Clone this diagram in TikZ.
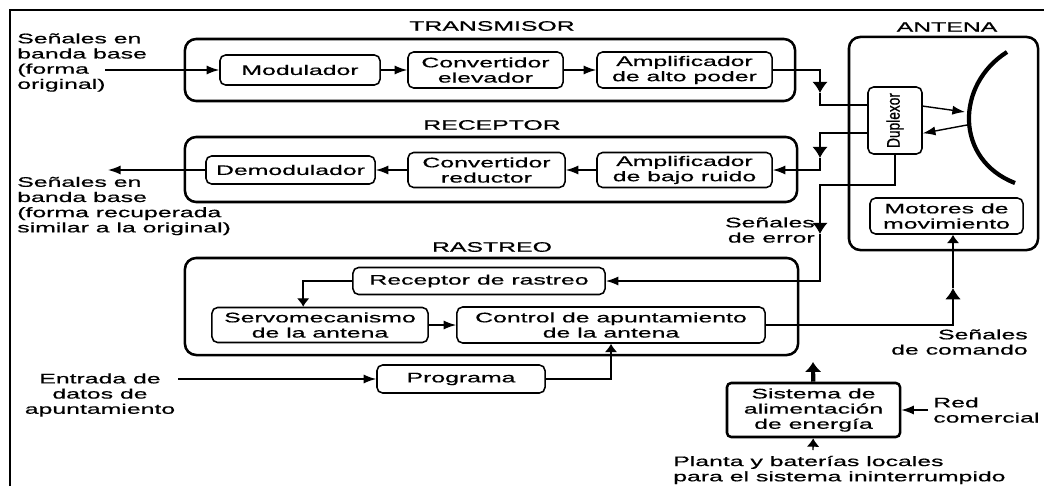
\documentclass[tikz,border=0pt]{standalone}
\usepackage{fontspec}
\setmainfont{Liberation Sans}[FakeStretch=1.8, FakeBold=0.6]
\newfontfamily\dupfont{Liberation Sans}[FakeStretch=0.75, FakeBold=0.6]
\usetikzlibrary{arrows.meta}

\tikzset{
  grupo/.style={draw=black, line width=1.8pt, rounded corners=8pt, inner sep=0pt},
  bloque/.style={draw=black, line width=1.1pt, rounded corners=4pt, align=center, inner sep=0pt},
  rotulo/.style={inner sep=0pt},
  flecha/.style={line width=1pt},
  vert/.style={-{Latex[length=6pt,width=9pt]}},
  midv/.style={-{Latex[length=8pt,width=11pt]}},
}

\begin{document}
\begin{tikzpicture}[>={Latex[length=9pt,width=6.5pt]}, x=0.025cm, y=-0.025cm,
  every node/.style={font=\fontsize{9.8}{10.8}\selectfont}]
  \useasboundingbox (0,0) rectangle (1044,486);
  \draw[line width=1.3pt] (10,486) -- (10,10) -- (1044,10);

  % Groups
  \node[grupo, minimum width=15.25cm, minimum height=1.55cm] (gtx) at (490,70) {};
  \node[grupo, minimum width=15.3cm, minimum height=1.625cm] (grx) at (491,169.5) {};
  \node[grupo, minimum width=15.325cm, minimum height=2.425cm] (grast) at (491.5,306.5) {};
  \node[grupo, minimum width=4.725cm, minimum height=5.325cm] (gant) at (943.5,143.5) {};
  \node[rotulo] (ttx) at (492,26) {TRANSMISOR};
  \node[rotulo] (trx) at (492,125) {RECEPTOR};
  \node[rotulo] (trast) at (492,247) {RASTREO};
  \node[rotulo] (tant) at (947,27) {ANTENA};

  % Nodes
  \node[bloque, minimum width=4cm, minimum height=0.75cm] (mod) at (300,70) {Modulador};
  \node[bloque, minimum width=3.875cm, minimum height=0.9cm] (convelev) at (485.5,70) {Convertidor\\elevador};
  \node[bloque, minimum width=4.375cm, minimum height=0.9cm] (ampalto) at (684.5,70) {Amplificador\\de alto poder};
  \node[bloque, minimum width=4.225cm, minimum height=0.7cm] (demod) at (290.5,170) {Demodulador};
  \node[bloque, minimum width=3.925cm, minimum height=0.875cm] (convred) at (486.5,170) {Convertidor\\reductor};
  \node[bloque, minimum width=4.375cm, minimum height=0.875cm] (ampbajo) at (684.5,170) {Amplificador\\de bajo ruido};
  \node[bloque, minimum width=1.35cm, minimum height=1.675cm] (dup) at (895,120.5) {};
  \node[rotulo, rotate=90, font=\dupfont\fontsize{13}{14}\selectfont] (duptxt) at (dup) {Duplexor};
  \node[bloque, minimum width=3.825cm, minimum height=0.9cm] (motores) at (946.5,216) {Motores de\\movimiento};
  \node[bloque, minimum width=6.3cm, minimum height=0.675cm] (recrast) at (479,281) {Receptor de rastreo};
  \node[bloque, minimum width=5.4cm, minimum height=0.875cm] (servo) at (320,325) {Servomecanismo\\de la antena};
  \node[bloque, minimum width=7.7cm, minimum height=0.9cm] (control) at (611,325) {Control de apuntamiento\\de la antena};
  \node[bloque, minimum width=4.2cm, minimum height=0.7cm] (programa) at (461,379) {Programa};
  \node[bloque, line width=1.8pt, rounded corners=3pt, minimum width=4.325cm, minimum height=1.35cm] (sistema) at (813.5,410) {Sistema de\\alimentación\\de energía};

  % Texts
  \node[rotulo, align=left, anchor=west] (txsig) at (17,62.5) {Señales en\\banda base\\(forma\\original)};
  \node[rotulo, align=left, anchor=west] (rxsig) at (17,206) {Señales en\\banda base\\(forma recuperada\\similar a la original)};
  \node[rotulo, align=right, anchor=east] (errsig) at (815,230) {Señales\\de error};
  \node[rotulo, align=right, anchor=east] (cmdsig) at (1028,342) {Señales\\de comando};
  \node[rotulo, align=center] (entsig) at (100,395) {Entrada de\\datos de\\apuntamiento};
  \node[rotulo, align=left, anchor=west] (redsig) at (933,410) {Red\\comercial};
  \node[rotulo, align=left, anchor=west] (plansig) at (673,470) {Planta y baterías locales\\para el sistema ininterrumpido};

  % Dish
  \draw[line width=3pt] (1007,52) .. controls (955,85) and (955,160) .. (1015,183);
  \coordinate (dishA) at (965,112);
  \coordinate (dishB) at (967,125);

  % Free ends and bends
  \coordinate (txin) at (105,70);
  \coordinate (rxout) at (108,170);
  \coordinate (entin) at (178,379);
  \coordinate (redin) at (928,410);
  \coordinate (plantin) at (813,450);
  \coordinate (pwrout) at (813,362);
  \coordinate (txmid) at (820,93);
  \coordinate (rxmid) at (820,158);
  \coordinate (errbend) at (820,185);
  \coordinate (errmid) at (820,234);
  \coordinate (cmdmid) at (953,288);

  % Arrows
  \draw[flecha, ->] (txin) -- (mod);
  \draw[flecha, ->] (mod) -- (convelev);
  \draw[flecha, ->] (convelev) -- (ampalto);
  \draw[flecha, midv] (ampalto) -| (txmid);
  \draw[flecha] (txmid) |- ([yshift=0.39cm]dup.west);
  \draw[flecha, ->] ([yshift=0.36cm]dup.east) -- (dishA);
  \draw[flecha, ->] (dishB) -- ([yshift=-0.32cm]dup.east);
  \draw[flecha, midv] ([yshift=-0.31cm]dup.west) -| (rxmid);
  \draw[flecha, ->] (rxmid) |- (ampbajo);
  \draw[flecha, ->] (ampbajo) -- (convred);
  \draw[flecha, ->] (convred) -- (demod);
  \draw[flecha, ->] (demod) -- (rxout);
  \draw[flecha, midv] (dup.south) |- (errbend) -- (errmid);
  \draw[flecha, ->] (errmid) |- (recrast);
  \draw[flecha, vert] (recrast) -| ([xshift=-0.42cm]servo.north);
  \draw[flecha, ->] (servo) -- (control);
  \draw[flecha, ->] (entin) -- (programa);
  \draw[flecha, vert] (programa) -| (control.south);
  \draw[flecha, midv] (control) -| (cmdmid);
  \draw[flecha, vert] (cmdmid) -- (cmdmid |- motores.south);
  \draw[line width=3pt, -{Latex[length=7pt,width=12pt]}] (sistema) -- (pwrout);
  \draw[flecha, ->] (redin) -- (sistema);
  \draw[flecha, vert] (plantin) -- (sistema);
\end{tikzpicture}
\end{document}
